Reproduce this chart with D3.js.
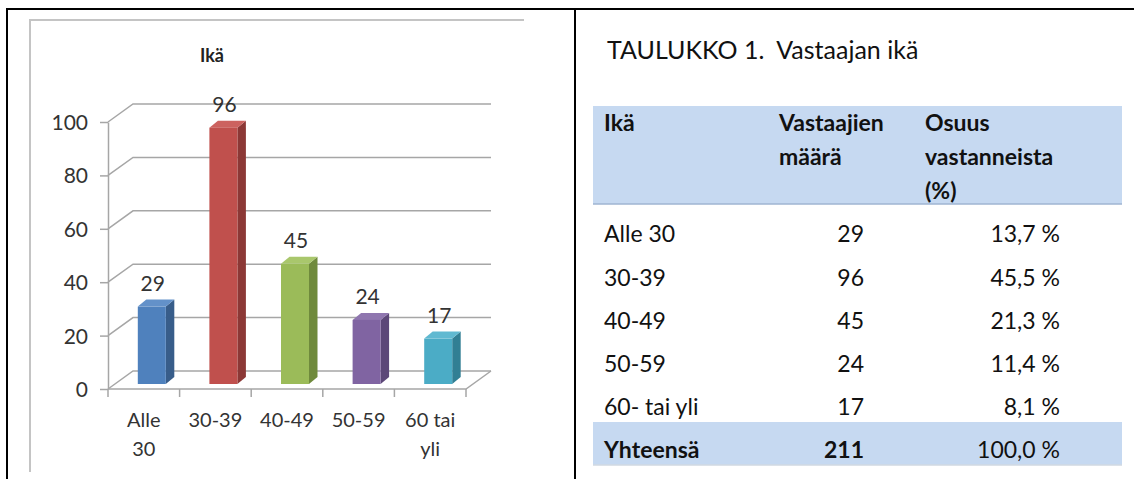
<!DOCTYPE html>
<meta charset="utf-8">
<head>
    <style>
        body { margin: 0; background: #fff; }
        svg text { font-family: Lato, "Open Sans", sans-serif; }
        .axis path, .axis line { stroke: #a6a6a6; stroke-width: 1.5; }
        .axis text { fill: #333; font-size: 21px; }
        .grid { fill: none; stroke: #a6a6a6; stroke-width: 1.5; }
    </style>
    <script src="https://d3js.org/d3.v7.min.js"></script>
</head>
<body>
<svg id="page"></svg>
<script>

    // chart data
    var categories = ["Alle 30", "30-39", "40-49", "50-59", "60 tai yli"];
    var xLabelLines = [["Alle", "30"], ["30-39"], ["40-49"], ["50-59"], ["60 tai", "yli"]];
    var counts = [29, 96, 45, 24, 17];
    var yTicks = [0, 20, 40, 60, 80, 100];
    var barColors = [
        {front: "#4f81bd", side: "#385d8a", top: "#6391c9"},
        {front: "#c0504d", side: "#8c3836", top: "#cc625f"},
        {front: "#9bbb59", side: "#6f8a3c", top: "#a9c76c"},
        {front: "#8064a2", side: "#5c4778", top: "#8f76af"},
        {front: "#4bacc6", side: "#317f94", top: "#60b9d1"}
    ];

    // table data
    var tableTitle = "TAULUKKO 1.  Vastaajan ikä";
    var headers = [["Ikä"], ["Vastaajien", "määrä"], ["Osuus", "vastanneista", "(%)"]];
    var ageRows = ["Alle 30", "30-39", "40-49", "50-59", "60- tai yli"];
    var shares = ["13,7 %", "45,5 %", "21,3 %", "11,4 %", "8,1 %"];
    var totalRow = ["Yhteensä", "211", "100,0 %"];

    var width = 1134, height = 479;

    var svg = d3.select("#page")
        .attr("width", width)
        .attr("height", height);

    // page borders
    svg.append("line").attr("x1", 7).attr("x2", width).attr("y1", 9).attr("y2", 9)
        .style("stroke", "#000").style("stroke-width", 2);
    svg.append("line").attr("x1", 7).attr("x2", 7).attr("y1", 8).attr("y2", height)
        .style("stroke", "#000").style("stroke-width", 2);
    svg.append("line").attr("x1", 575).attr("x2", 575).attr("y1", 8).attr("y2", height)
        .style("stroke", "#000").style("stroke-width", 2);

    // chart picture frame
    svg.append("path")
        .attr("d", "M30,472V20H524")
        .style("fill", "none").style("stroke", "#c4c4c4").style("stroke-width", 2);

    svg.append("text")
        .attr("x", 212).attr("y", 62)
        .attr("text-anchor", "middle")
        .style("font-weight", "bold").style("font-size", "18px").style("fill", "#222")
        .text("Ikä");

    var x = d3.scaleBand().domain(categories).range([108, 466]).padding(0);
    var y = d3.scaleLinear().domain([0, 100]).range([389, 122]);

    var depth = {dx: 25, dy: -18};   // back wall offset
    var xEnd = 491;

    // back wall gridlines with diagonal
    svg.append("g").selectAll("path")
        .data(yTicks)
        .enter()
        .append("path")
        .attr("class", "grid")
        .attr("d", function (d) {
            var yy = y(d);
            return "M" + x.range()[0] + "," + yy + "L" + (x.range()[0] + depth.dx) + "," + (yy + depth.dy) + "H" + xEnd;
        });

    // floor front edge
    svg.append("path")
        .attr("class", "grid")
        .attr("d", "M" + x.range()[0] + "," + y(0) + "H" + x.range()[1] + "L" + xEnd + "," + (y(0) + depth.dy));

    // y axis
    svg.append("g")
        .attr("class", "axis")
        .attr("transform", "translate(" + x.range()[0] + ",0)")
        .call(d3.axisLeft(y).tickValues(yTicks).tickSize(8).tickSizeOuter(0).tickPadding(12))
        .call(function (g) { g.selectAll("text").attr("dy", "0.36em"); });

    // x tick marks at category boundaries
    var bounds = categories.map(function (c) { return x(c); }).concat([x.range()[1]]);
    svg.append("g").selectAll("line")
        .data(bounds)
        .enter()
        .append("line")
        .attr("x1", function (d) { return d; })
        .attr("x2", function (d) { return d; })
        .attr("y1", y(0)).attr("y2", y(0) + 8)
        .style("stroke", "#a6a6a6").style("stroke-width", 1.5);

    // x labels
    var xl = svg.append("g").selectAll("text")
        .data(xLabelLines)
        .enter()
        .append("text")
        .attr("text-anchor", "middle")
        .style("font-size", "20px").style("fill", "#333");
    xl.selectAll("tspan")
        .data(function (d, i) { return d.map(function (t) { return {t: t, i: i}; }); })
        .enter()
        .append("tspan")
        .attr("x", function (d) { return x(categories[d.i]) + x.bandwidth() / 2; })
        .attr("y", function (d, j) { return 427 + j * 29; })
        .text(function (d) { return d.t; });

    // 3d bars
    var barW = 28, shift = {dx: 8, dy: -5}, side = {dx: 8.5, dy: -7};
    var bars = svg.append("g").selectAll("g")
        .data(counts)
        .enter()
        .append("g");

    function bx(i) { return x(categories[i]) + (x.bandwidth() - barW) / 2 + shift.dx; }

    bars.append("path")
        .attr("d", function (d, i) {
            var x0 = bx(i), x1 = x0 + barW, top = y(d) + shift.dy, base = y(0) + shift.dy;
            return "M" + x1 + "," + top + "l" + side.dx + "," + side.dy + "V" + (base + side.dy) + "L" + x1 + "," + base + "Z";
        })
        .style("fill", function (d, i) { return barColors[i].side; });

    bars.append("path")
        .attr("d", function (d, i) {
            var x0 = bx(i), top = y(d) + shift.dy;
            return "M" + x0 + "," + top + "l" + side.dx + "," + side.dy + "h" + barW + "l" + (-side.dx) + "," + (-side.dy) + "Z";
        })
        .style("fill", function (d, i) { return barColors[i].top; });

    bars.append("rect")
        .attr("x", function (d, i) { return bx(i); })
        .attr("y", function (d) { return y(d) + shift.dy; })
        .attr("width", barW)
        .attr("height", function (d) { return y(0) - y(d); })
        .style("fill", function (d, i) { return barColors[i].front; });

    bars.append("text")
        .attr("x", function (d, i) { return bx(i) + barW / 2 + 1; })
        .attr("y", function (d) { return y(d) + shift.dy - 16; })
        .attr("text-anchor", "middle")
        .style("font-size", "21px").style("fill", "#333")
        .text(function (d) { return d; });

    // ---- table ----
    var tbl = svg.append("g").style("fill", "#111");
    var colX = [604, 779, 925];
    var numRight = 864, pctRight = 1060;
    var rowY = [234, 278, 321, 364, 407];
    var fs = "23px";

    tbl.append("text")
        .attr("x", 607).attr("y", 59)
        .style("font-size", "25px")
        .style("white-space", "pre")
        .text(tableTitle);

    tbl.append("rect")
        .attr("x", 593).attr("y", 106).attr("width", 529).attr("height", 98)
        .style("fill", "#c6d9f1");
    tbl.append("line")
        .attr("x1", 593).attr("x2", 1122).attr("y1", 204).attr("y2", 204)
        .style("stroke", "#9fb5d2").style("stroke-width", 1.5);

    headers.forEach(function (lines, c) {
        var t = tbl.append("text")
            .style("font-size", fs).style("font-weight", "bold");
        t.selectAll("tspan")
            .data(lines)
            .enter()
            .append("tspan")
            .attr("x", colX[c])
            .attr("y", function (d, j) { return 131 + j * 34; })
            .text(function (d) { return d; });
    });

    var rows = tbl.selectAll("g.row")
        .data(ageRows)
        .enter()
        .append("g")
        .attr("class", "row");

    rows.append("text")
        .attr("x", colX[0]).attr("y", function (d, i) { return rowY[i] + 8; })
        .style("font-size", fs)
        .text(function (d) { return d; });
    rows.append("text")
        .attr("x", numRight).attr("y", function (d, i) { return rowY[i] + 8; })
        .attr("text-anchor", "end")
        .style("font-size", fs)
        .text(function (d, i) { return counts[i]; });
    rows.append("text")
        .attr("x", pctRight).attr("y", function (d, i) { return rowY[i] + 8; })
        .attr("text-anchor", "end")
        .style("font-size", fs)
        .text(function (d, i) { return shares[i]; });

    // total row
    tbl.append("rect")
        .attr("x", 593).attr("y", 422).attr("width", 529).attr("height", 43)
        .style("fill", "#c6d9f1");
    tbl.append("line")
        .attr("x1", 593).attr("x2", 1122).attr("y1", 465).attr("y2", 465)
        .style("stroke", "#d0d8e2").style("stroke-width", 1.5);
    tbl.append("text").attr("x", colX[0]).attr("y", 458)
        .style("font-size", fs).style("font-weight", "bold").text(totalRow[0]);
    tbl.append("text").attr("x", numRight).attr("y", 458).attr("text-anchor", "end")
        .style("font-size", fs).style("font-weight", "bold").text(totalRow[1]);
    tbl.append("text").attr("x", pctRight).attr("y", 458).attr("text-anchor", "end")
        .style("font-size", fs).text(totalRow[2]);

</script>
</body>
